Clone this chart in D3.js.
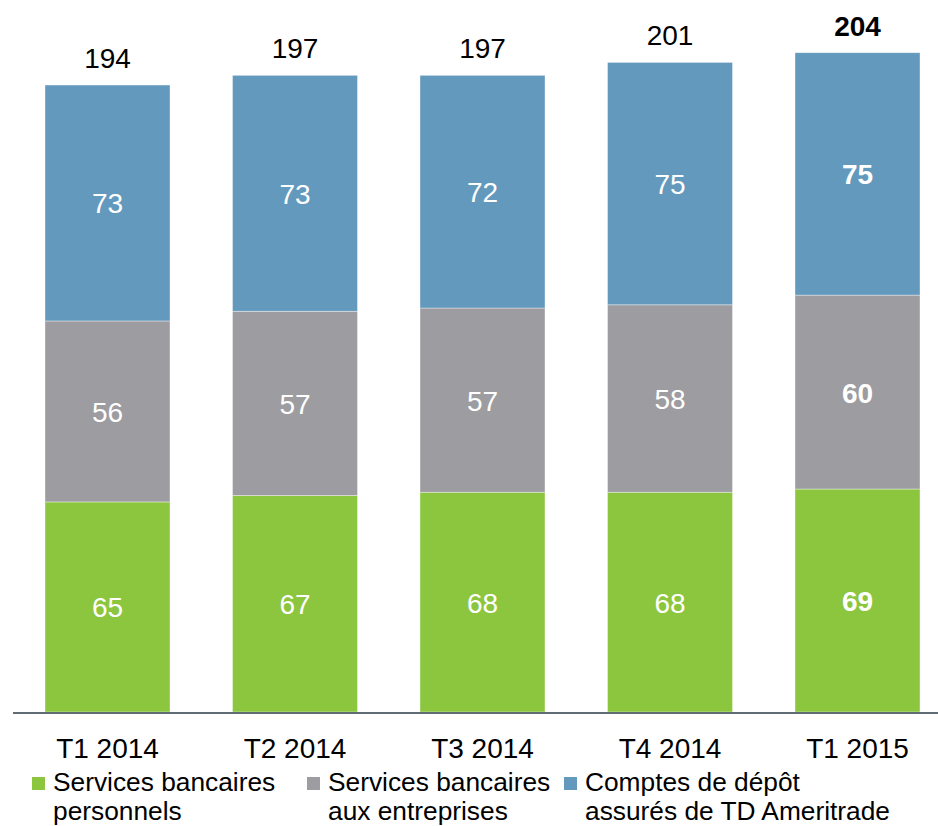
<!DOCTYPE html>
<html>
<head>
<meta charset="utf-8">
<script src="https://cdn.jsdelivr.net/npm/d3@7"></script>
<style>
  body { margin: 0; background: #fff; }
  svg { display: block; font-family: "Liberation Sans", Arial, sans-serif; }
</style>
</head>
<body>
<svg id="chart" width="938" height="826"></svg>
<script>
const QUARTERS = ["T1 2014", "T2 2014", "T3 2014", "T4 2014", "T1 2015"]
const PERSONAL = [65, 67, 68, 68, 69]
const BUSINESS = [56, 57, 57, 58, 60]
const TD_AMERITRADE = [73, 73, 72, 75, 75]
const TOTALS = [194, 197, 197, 201, 204]
const SERIES_NAMES = [
    ["Services bancaires", "personnels"],
    ["Services bancaires", "aux entreprises"],
    ["Comptes de dépôt", "assurés de TD Ameritrade"]
]
const COLORS = ["#8cc63f", "#9d9ca1", "#6399bd"]
const BOLD_INDEX = 4

const svg = d3.select("#chart")

const X_SCALE = d3.scaleBand()
    .domain(QUARTERS)
    .range([45, 920])
    .paddingInner(1 / 3)
    .paddingOuter(0)

const Y_SCALE = d3.scaleLinear()
    .domain([0, 220])
    .range([712, 1])

// stack the three series
const rows = QUARTERS.map((q, i) => ({q: q, s0: PERSONAL[i], s1: BUSINESS[i], s2: TD_AMERITRADE[i], total: TOTALS[i], i: i}))
const stacked = d3.stack().keys(["s0", "s1", "s2"])(rows)

stacked.forEach((layer, k) => {
    const g = svg.append("g")
    g.selectAll("rect")
        .data(layer)
        .join("rect")
        .attr("x", d => X_SCALE(d.data.q))
        .attr("y", d => Y_SCALE(d[1]))
        .attr("width", X_SCALE.bandwidth())
        .attr("height", d => Y_SCALE(d[0]) - Y_SCALE(d[1]))
        .attr("fill", COLORS[k])
        .attr("stroke", "#ffffff")
        .attr("stroke-opacity", 0.5)
        .attr("stroke-width", 0.75)

    g.selectAll("text")
        .data(layer)
        .join("text")
        .attr("x", d => X_SCALE(d.data.q) + X_SCALE.bandwidth() / 2)
        .attr("y", d => (Y_SCALE(d[0]) + Y_SCALE(d[1])) / 2 + 10.5)
        .attr("text-anchor", "middle")
        .attr("font-size", "28px")
        .attr("font-weight", d => d.data.i === BOLD_INDEX ? "bold" : "normal")
        .attr("fill", "#ffffff")
        .text(d => d[1] - d[0])
})

// totals above bars
svg.append("g").selectAll("text")
    .data(rows)
    .join("text")
    .attr("x", d => X_SCALE(d.q) + X_SCALE.bandwidth() / 2)
    .attr("y", d => Y_SCALE(d.total) - 17)
    .attr("text-anchor", "middle")
    .attr("font-size", "28px")
    .attr("font-weight", d => d.i === BOLD_INDEX ? "bold" : "normal")
    .attr("fill", "#000000")
    .text(d => d.total)

// x axis
const xAxis = svg.append("g")
    .attr("transform", `translate(0, ${Y_SCALE(0)})`)
    .call(d3.axisBottom(X_SCALE).tickSize(0).tickPadding(26))
xAxis.select(".domain").remove()
xAxis.selectAll("text")
    .attr("font-size", "28px")
    .attr("font-family", "\"Liberation Sans\", Arial, sans-serif")
    .attr("fill", "#000000")
svg.append("line")
    .attr("x1", 13)
    .attr("x2", 938)
    .attr("y1", Y_SCALE(0) + 1)
    .attr("y2", Y_SCALE(0) + 1)
    .attr("stroke", "#5f6b75")
    .attr("stroke-width", 2)

// legend
const LEGEND_X = [32, 307, 564]
const legend = svg.append("g")
SERIES_NAMES.forEach((lines, k) => {
    const item = legend.append("g").attr("transform", `translate(${LEGEND_X[k]}, 0)`)
    item.append("rect")
        .attr("x", 0)
        .attr("y", 777)
        .attr("width", 13)
        .attr("height", 13)
        .attr("fill", COLORS[k])
    item.append("text")
        .attr("x", 21)
        .attr("y", 791)
        .attr("font-size", "26.3px")
        .attr("fill", "#000000")
        .selectAll("tspan")
        .data(lines)
        .join("tspan")
        .attr("x", 21)
        .attr("dy", (d, i) => i === 0 ? 0 : 29)
        .text(d => d)
})
</script>
</body>
</html>
